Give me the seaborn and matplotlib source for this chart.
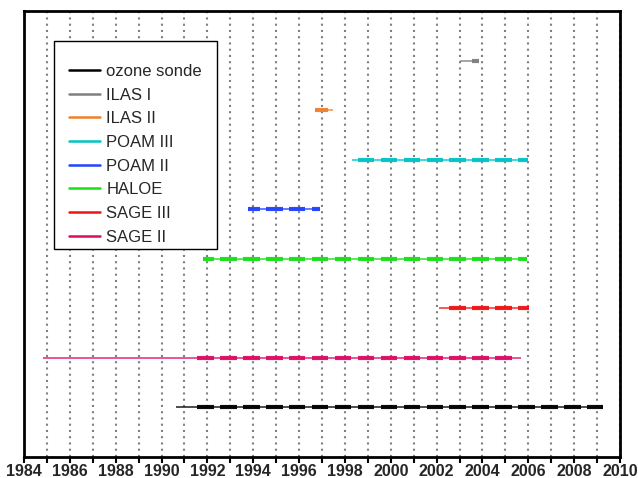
import matplotlib
matplotlib.use("Agg")
import matplotlib.pyplot as plt
from matplotlib.lines import Line2D
from matplotlib.patches import Rectangle
from matplotlib.ticker import MultipleLocator
import pandas as pd
import seaborn as sns

# Instruments, drawn bottom (level 1) to top (level 8)
instruments = ["ozone sonde", "ILAS I", "ILAS II", "POAM III", "POAM II",
               "HALOE", "SAGE III", "SAGE II"]
colors = ["#000000", "#7f7f7f", "#f0802c", "#00c4c8", "#2242ff",
          "#18e018", "#f01414", "#dc0c64"]
levels = [1, 8, 7, 6, 5, 4, 3, 2]

# Full record of each instrument (decimal years)
span_start = [1990.65, 2003.00, 1996.70, 1998.30, 1993.75, 1991.80, 2002.10, 1984.83]
span_end = [2009.27, 2003.87, 1997.50, 2005.98, 1996.92, 2005.95, 2006.05, 2005.68]

# Winter observing seasons with dense coverage (year in which the season starts)
seasons = {
    "ozone sonde": [1991, 1992, 1993, 1994, 1995, 1996, 1997, 1998, 1999,
                    2000, 2001, 2002, 2003, 2004, 2005, 2006, 2007, 2008],
    "ILAS I": [2003],
    "ILAS II": [1996],
    "POAM III": [1998, 1999, 2000, 2001, 2002, 2003, 2004, 2005],
    "POAM II": [1993, 1994, 1995, 1996],
    "HALOE": [1991, 1992, 1993, 1994, 1995, 1996, 1997, 1998, 1999,
              2000, 2001, 2002, 2003, 2004, 2005],
    "SAGE III": [2002, 2003, 2004, 2005],
    "SAGE II": [1991, 1992, 1993, 1994, 1995, 1996, 1997, 1998, 1999,
                2000, 2001, 2002, 2003, 2004],
}
# Season window: late July through mid April of the following year
season_from, season_to = 0.56, 1.28

# Long-form tables for seaborn
span_rows, season_rows = [], []
for name, lev, s0, s1 in zip(instruments, levels, span_start, span_end):
    span_rows += [(name, lev, s0, name), (name, lev, s1, name)]
    for yr in seasons[name]:
        a = max(yr + season_from, s0)
        b = min(yr + season_to, s1)
        if b > a:
            seg = f"{name}-{yr}"
            season_rows += [(name, lev, a, seg), (name, lev, b, seg)]
span_df = pd.DataFrame(span_rows, columns=["instrument", "level", "year", "unit"])
season_df = pd.DataFrame(season_rows, columns=["instrument", "level", "year", "unit"])
palette = dict(zip(instruments, colors))

sns.set_style("white")
plt.rcParams["font.family"] = ["Liberation Sans", "DejaVu Sans"]

fig = plt.figure(figsize=(6.38, 4.78), dpi=100)
ax = fig.add_axes([24 / 638, 1 - 457 / 478, 596 / 638, 446 / 478])

sns.lineplot(data=span_df, x="year", y="level", hue="instrument", units="unit",
             estimator=None, palette=palette, linewidth=1.4, alpha=0.7,
             legend=False, sort=False, ax=ax, zorder=3,
             solid_capstyle="butt")
sns.lineplot(data=season_df, x="year", y="level", hue="instrument", units="unit",
             estimator=None, palette=palette, linewidth=3.0, alpha=0.95,
             legend=False, sort=False, ax=ax, zorder=4,
             solid_capstyle="butt")

ax.set_xlim(1984, 2010)
ax.set_ylim(0, 9)
ax.set_xlabel("")
ax.set_ylabel("")
ax.set_yticks([])
ax.xaxis.set_major_locator(MultipleLocator(2))
ax.xaxis.set_minor_locator(MultipleLocator(1))
ax.tick_params(axis="x", which="both", direction="out", length=4, width=1.5,
               color="black", bottom=True, top=False, pad=1.0)
for lab in ax.get_xticklabels():
    lab.set_fontweight("bold")
    lab.set_fontsize(11.5)
ax.xaxis.grid(True, which="both", color="#808080", linestyle=(0, (1.0, 2.0)),
              linewidth=1.5)
ax.set_axisbelow(True)
for sp in ax.spines.values():
    sp.set_visible(True)
    sp.set_color("black")
    sp.set_linewidth(2.0)

# Legend box and entries
box = Rectangle((54 / 638, 1 - 249 / 478), 163 / 638, 208 / 478,
                transform=fig.transFigure, facecolor="white", edgecolor="black",
                linewidth=1.0, zorder=6, clip_on=False)
ax.add_patch(box)
handles = [Line2D([], [], color=c, linewidth=1.8) for c in colors]
leg = ax.legend(handles, instruments, loc="upper left",
                bbox_to_anchor=(69 / 638, 1 - 64 / 478), bbox_transform=fig.transFigure,
                frameon=False, borderpad=0, borderaxespad=0, fontsize=12,
                handlelength=1.85, handletextpad=0.4, labelspacing=0.52)
leg.set_zorder(7)

fig.savefig("out.png", dpi=100)
